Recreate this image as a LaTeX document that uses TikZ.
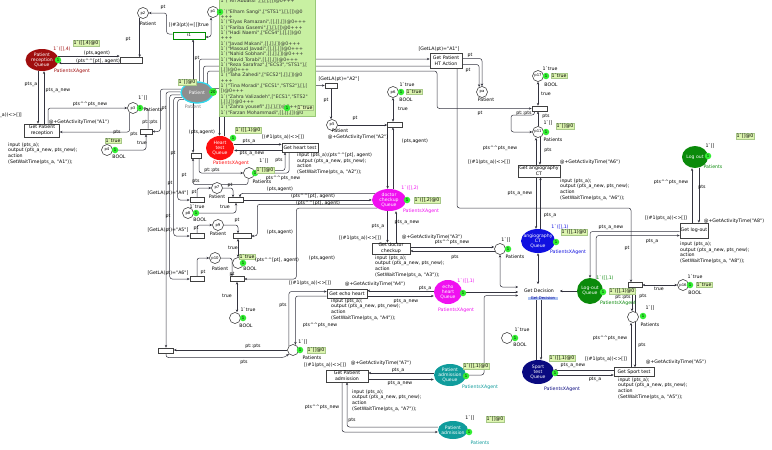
\documentclass[tikz,border=0pt]{standalone}
\usepackage{fontspec}
\newfontfamily\cpn{DejaVu Sans}
\usetikzlibrary{arrows.meta,shapes.geometric,backgrounds,calc}
\definecolor{arcc}{HTML}{34343F}
\definecolor{qdred}{HTML}{A00E0E}
\definecolor{qred}{HTML}{FF1010}
\definecolor{qmag}{HTML}{F010F0}
\definecolor{qblue}{HTML}{1010E0}
\definecolor{qnavy}{HTML}{0A0A80}
\definecolor{qteal}{HTML}{109C9C}
\definecolor{qgreen}{HTML}{0A8A0A}
\definecolor{pgrey}{HTML}{8E8E8E}
\definecolor{pcyan}{HTML}{30D8EE}
\definecolor{tokg}{HTML}{33EE33}
\definecolor{mkfill}{HTML}{DDF5B0}
\definecolor{mkdraw}{HTML}{A8C888}
\definecolor{listfill}{HTML}{C8F0A2}
\definecolor{listdraw}{HTML}{98C878}
\definecolor{subblue}{HTML}{AFC4F2}
\newcommand\fs{\fontsize{4.7}{5.6}\selectfont}
\newcommand\fss{\fontsize{3.8}{4.2}\selectfont}
\newcommand\fsss{\fontsize{3}{3.2}\selectfont}
\newcommand\fsq{\fontsize{4.6}{5.1}\selectfont}
\newcommand\hh{\char94\char94}
\begin{document}
\begin{tikzpicture}[x=1pt,y=-1pt,font=\cpn\fs,
 arc/.style={draw=arcc,line width=0.5pt,rounded corners=2.5pt,-{Stealth[length=2.8pt,width=2.4pt]}},
 arcb/.style={arc,{Stealth[length=2.8pt,width=2.4pt]}-{Stealth[length=2.8pt,width=2.4pt]}},
 place/.style={circle,draw=black!85,line width=0.5pt,fill=white,minimum size=11pt,inner sep=0pt,font=\cpn\fss},
 tr/.style={rectangle,draw=black!75,line width=0.55pt,fill=white,align=center,inner sep=0pt,font=\cpn\fs},
 str/.style={tr,minimum height=5pt,font=\cpn\fsss},
 qe/.style={ellipse,inner sep=0pt},
 qt/.style={text=white,align=center,inner sep=0pt,font=\cpn\fsq},
 tok/.style={circle,fill=tokg,minimum size=6.5pt,inner sep=0pt,font=\cpn\fss},
 mk/.style={fill=mkfill,draw=mkdraw,line width=0.3pt,inner sep=0.7pt},
 lb/.style={inner sep=0pt},
 code/.style={align=left,anchor=north west,inner sep=0pt},
]
\useasboundingbox (0,0) rectangle (772,450);

% ---------------- queues (ellipses)
\node[qe,fill=qdred,minimum width=33pt,minimum height=22pt] (PRQ) at (42,60) {};
\node[qe,fill=pgrey,draw=pcyan,line width=1.3pt,minimum width=32pt,minimum height=21pt] (Patient) at (197,92.5) {};
\node[qe,fill=qred,minimum width=28pt,minimum height=24pt] (HTQ) at (220,148) {};
\node[qe,fill=qmag,minimum width=34pt,minimum height=22pt] (DCQ) at (389,200) {};
\node[qe,fill=qblue,minimum width=34pt,minimum height=24pt] (ACT) at (538,241) {};
\node[qe,fill=qmag,minimum width=28pt,minimum height=24pt] (EHQ) at (448,292) {};
\node[qe,fill=qteal,minimum width=32pt,minimum height=22pt] (PAQ) at (450,375) {};
\node[qe,fill=qteal,minimum width=30pt,minimum height=18pt] (PA) at (453,430) {};
\node[qe,fill=qnavy,minimum width=32pt,minimum height=24pt] (STQ) at (538,372) {};
\node[qe,fill=qgreen,minimum width=26pt,minimum height=26pt] (LOQ) at (590,291) {};
\node[qe,fill=qgreen,minimum width=26pt,minimum height=22pt] (LO) at (695,157) {};
\node[qt] (PRQt) at (PRQ) {Patient\\reception\\Queue};
\node[qt] (Patientt) at (Patient) {Patient};
\node[qt] (HTQt) at (HTQ) {Heart\\test\\Queue};
\node[qt] (DCQt) at (DCQ) {doctor\\checkup\\Queue};
\node[qt] (ACTt) at (ACT) {angiography\\CT\\Queue};
\node[qt] (EHQt) at (EHQ) {echo\\heart\\Queue};
\node[qt] (PAQt) at (PAQ) {Patient\\admission\\Queue};
\node[qt] (PAt) at (PA) {Patient\\admission};
\node[qt] (STQt) at (STQ) {Sport\\test\\Queue};
\node[qt] (LOQt) at (LOQ) {Log-out\\Queue};
\node[qt] (LOt) at (LO) {Log out};

% ---------------- places
\node[place] (p2) at (143,13) {p2};
\node[place] (p1) at (213,12) {p1};
\node[place] (p3) at (133,108) {p3};
\node[place] (p4) at (107,150) {p4};
\node[place] (p5) at (332,125) {p5};
\node[place] (pa) at (482,92) {pa};
\node[place] (p6) at (393,92) {p6};
\node[place] (p17) at (538,76) {p17};
\node[place] (p11) at (538,132) {p11};
\node[place] (pX) at (249,173) {};
\node[place] (p7) at (217,188) {p7};
\node[place] (p8) at (188,213) {p8};
\node[place] (p9) at (218,225) {p9};
\node[place] (p12) at (238,263) {};
\node[place] (p10) at (215,258) {p10};
\node[place] (p13) at (235,318) {};
\node[place] (p15) at (293,350) {};
\node[place] (p19) at (500,249) {};
\node[place] (p14) at (507,338) {};
\node[place] (p16) at (683,285) {p16};
\node[place] (p18) at (633,317) {};

% ---------------- transitions
\node[tr,minimum width=35pt,minimum height=13pt] (GPR) at (42,130.5) {Get Patient\\reception};
\node[str,minimum width=22pt,minimum height=6pt] (t2) at (131,60.5) {};
\node[tr,draw=green!55!black,line width=0.8pt,minimum width=32pt,minimum height=7pt,font=\cpn\fss] (t1) at (189,35.5) {t1};
\node[str,minimum width=12pt] (t4) at (146,131.5) {};
\node[str,minimum width=10pt] (tHT) at (196,155.5) {};
\node[str,minimum width=14pt] (tA4) at (197,200) {};
\node[str,minimum width=15pt] (t7) at (236,200) {};
\node[str,minimum width=14pt] (tA5) at (197,236) {};
\node[str,minimum width=18pt] (t9) at (242,236) {};
\node[str,minimum width=14pt] (tA6) at (197,279) {};
\node[str,minimum width=14pt] (t10) at (237,279) {};
\node[str,minimum width=15pt] (t14) at (166,350.5) {};
\node[str,minimum width=12pt] (t5) at (331,85.5) {};
\node[str,minimum width=15pt] (t6) at (395,124.5) {};
\node[str,minimum width=15pt] (t17) at (539.5,108.5) {};
\node[str,minimum width=14pt] (tLO) at (635,285) {};
\node[tr,minimum width=32pt,minimum height=15pt] (GPHT) at (446,60.5) {Get Patient\\HT Action};
\node[tr,minimum width=36pt,minimum height=9pt] (GHT) at (300,147.5) {Get heart test};
\node[tr,minimum width=42pt,minimum height=12pt] (GACT) at (539,171) {Get angiography\\CT};
\node[tr,minimum width=38pt,minimum height=11pt] (GDC) at (391,248.5) {Get doctor\\checkup};
\node[tr,double,double distance=0.7pt,minimum width=41pt,minimum height=12pt] (GD) at (539,290.5) {Get Decision};
\node[tr,minimum width=40pt,minimum height=9pt] (GEH) at (347,293.5) {Get echo heart};
\node[tr,minimum width=42pt,minimum height=12pt] (GPA) at (347,376) {Get Patient\\admission};
\node[tr,minimum width=40pt,minimum height=9pt] (GST) at (634,372) {Get Sport test};
\node[tr,minimum width=28pt,minimum height=15pt] (GLO) at (694,230.5) {Get log-out};
\node[fill=subblue,text=blue!60!black,inner sep=0.5pt,font=\cpn\fss,minimum width=30pt] (GDsub) at (543,298.5) {Get Decision};

% ---------------- arcs
\begin{scope}[on background layer]
\fill[white] (0,0) rectangle (772,450);
\draw[arc] (PRQ.14) -- (PRQ.14 -| t2.west);
\draw[arc] ([yshift=-2.5pt]t2.west) -- ([yshift=-2.5pt]t2.west -| PRQ.east);
\draw[arc] (p2.235) -- (p2.235 |- t2.north);
\draw[arc] ([yshift=1.5pt]t1.west) -- ++(-6,0) |- (p2.east);
\draw[arc] (Patient.110) -- (Patient.110 |- t1.south);
\draw[arcb] (p1.250) |- ([yshift=-1.5pt]t1.east);
\draw[arc] ([xshift=-4pt]PRQ.south) -- ([xshift=-4pt]PRQ.south |- GPR.north);
\draw[arc] ([xshift=2pt]GPR.north) -- ([xshift=2pt]GPR.north |- PRQ.south);
\draw[arc] ([xshift=6pt]GPR.north) |- (p3.west);
\draw[arc] (p3.235) |- ([yshift=-1.5pt]GPR.east);
\draw[arc] ([xshift=2pt]t4.north) |- (p3.east);
\draw[arc] (Patient.168) -| ([xshift=8pt]t4.east) -- (t4.east);
\draw[arcb] (p4.east) -| (t4.south);
\draw[arc] (Patient.178) -| (t14.north);
\draw[arc] (Patient.188) -| ([xshift=-20pt]tA6.west) -- (tA6.west);
\draw[arc] (Patient.198) -| ([xshift=-16pt]tA5.west) -- (tA5.west);
\draw[arc] (Patient.208) -| ([xshift=-12pt]tA4.west) -- (tA4.west);
\draw[arc] (Patient.250) -- (Patient.250 |- tHT.north);
\draw[arc] ([xshift=3pt]tHT.south) |- (pX.west);
\draw[arc] (pX.260) -- ++(0,6) -| ([xshift=-3pt]tHT.south);
\draw[arc] (HTQ.15) -- (HTQ.15 -| GHT.west);
\draw[arc] ([yshift=-3pt]GHT.west) -- ([yshift=-3pt]GHT.west -| HTQ.east);
\draw[arc] ([xshift=-11pt]GHT.south) |- (pX.east);
\draw[arc] (pX.25) -| ([xshift=-15pt]GHT.south);
\coordinate (hq1) at (219.5,104);
\coordinate (hq2) at (224,104);
\draw[arc] (hq1) -- (hq1 |- HTQ.north);
\draw[arc] (HTQ.70) -- (HTQ.70 |- hq2);
\draw[arc] (t7.east) -- (t7.east -| DCQ.west);
\draw[arc] (DCQ.155) -| ([xshift=4pt]t7.north);
\draw[arc] (DCQ.195) -| ([xshift=6pt]t9.east) -- (t9.east);
\draw[arc] (DCQ.215) -| ([xshift=52pt]t10.east) -- (t10.east);
\draw[arc] (t6.south -| DCQ.97) -- (DCQ.97);
\draw[arc] (DCQ.70) -- (DCQ.70 |- t6.south);
\draw[arcb] (p6.south) -- (p6.south |- t6.north);
\draw[arc] (p5.east) -- (p5.east -| t6.west);
\draw[arc] (t5.south) -- (t5.south |- p5.north);
\draw[arc] (Patient.15) -| ([xshift=-12pt]t5.west) -- (t5.west);
\draw[arc] (Patient.78) |- ([yshift=1.5pt]GPHT.west);
\draw[arc] (Patient.58) |- (457,66) |- (631,208) -- ([xshift=-4pt]tLO.north);
\draw[arc] (Patient.40) |- (437,71) |- (t17.west);
\draw[arc] ([yshift=2pt]GPHT.east) -| (pa.north);
\draw[arc] ([yshift=-4pt]GPHT.east) -| (pa.120);
\draw[arcb] (p17.south) -- (p17.south |- t17.north);
\draw[arc] ([xshift=-5pt]t17.south) |- (511,115) |- (p11.west);
\draw[arc] (p11.north) -- (p11.north |- t17.south);
\draw[arc] ([xshift=-3pt]GACT.north) -- ([xshift=-3pt]GACT.north |- p11.south);
\draw[arc] (p11.290) -- (p11.290 |- GACT.north);
\draw[arc] ([xshift=-3pt]GACT.south) -- ([xshift=-3pt]GACT.south |- ACT.north);
\draw[arc] (ACT.78) -- (ACT.78 |- GACT.south);
\draw[arcb] (ACT.south) -- (ACT.south |- GD.north);
\draw[arc] ([xshift=2pt]GD.south) -- ([xshift=2pt]GD.south |- STQ.north);
\draw[arc] (STQ.100) -- (STQ.100 |- GD.south);
\draw[arc] (EHQ.east) -- (EHQ.east -| GD.west);
\draw[arcb] (p19.south) |- ([yshift=3.5pt]GD.west);
\draw[arc] (PAQ.east) -| (484,295.5) -- ([yshift=-5pt]GD.west);
\draw[arc] (LOQ.west) -- (LOQ.west -| GD.east);
\draw[arc] (DCQ.262) -- (DCQ.262 |- GDC.north);
\draw[arc] ([xshift=5pt]GDC.north) -- ([xshift=5pt]GDC.north |- DCQ.south);
\draw[arc] ([yshift=1.5pt]GDC.east) -- ([yshift=1.5pt]GDC.east -| p19.west);
\draw[arc] (p19.200) -- (p19.200 -| GDC.east);
\draw[arc] (EHQ.175) -- (EHQ.175 -| GEH.east);
\draw[arc] ([yshift=-2.5pt]GEH.east) -- ([yshift=-2.5pt]GEH.east -| EHQ.west);
\draw[arc] (p15.135) |- ([yshift=2pt]GEH.west);
\draw[arc] ([yshift=-2.5pt]GEH.west) -| (p15.65);
\draw[arc] ([yshift=2pt]PAQ.west) -- ([yshift=2pt]PAQ.west -| GPA.east);
\draw[arc] ([yshift=-3.5pt]GPA.east) -- ([yshift=-3.5pt]GPA.east -| PAQ.west);
\draw[arc] ([xshift=-5pt]GPA.south) |- ([yshift=-2pt]PA.west);
\draw[arc] ([yshift=3pt]PA.west) -| (GPA.south);
\draw[arc] ([yshift=-3pt]STQ.east) -- ([yshift=-3pt]STQ.east -| GST.west);
\draw[arc] ([yshift=2pt]GST.west) -- ([yshift=2pt]GST.west -| STQ.east);
\draw[arc] ([xshift=-3pt]GST.north) -- ([xshift=-3pt]GST.north |- p18.south);
\draw[arc] (p18.290) -- (p18.290 |- GST.north);
\draw[arc] ([xshift=-3pt]tLO.south) -- ([xshift=-3pt]tLO.south |- p18.north);
\draw[arc] (p18.70) -- (p18.70 |- tLO.south);
\draw[arcb] (tLO.east) -- (tLO.east -| p16.west);
\draw[arc] ([yshift=-1pt]GLO.west) -| (LOQ.north);
\draw[arc] (LOQ.62) |- ([yshift=-5pt]GLO.west);
\draw[arc] ([xshift=-2pt]GLO.north) -- ([xshift=-2pt]GLO.north |- LO.south);
\draw[arc] (LO.290) -- (LO.290 |- GLO.north);
\draw[arc] (p15.west) -- (p15.west -| t14.east);
\draw[arc] (t14.south) |- (284,357.5) -- (p15.225);
\draw[arc] (tA4.north) |- (p7.west);
\draw[arc] (p7.east) -| ([xshift=-3pt]t7.north);
\draw[arcb] (p8.east) -| (t7.south);
\draw[arc] (tA5.north) |- (p9.west);
\draw[arc] (p9.east) -| ([xshift=-4pt]t9.north);
\draw[arcb] (p12.north) -- (p12.north |- t9.south);
\draw[arc] (tA6.north) |- (p10.west);
\draw[arc] (p10.east) -| ([xshift=-5pt]t10.north);
\draw[arcb] (t10.south) -- (t10.south |- p13.north);
\end{scope}

% ---------------- Patient marking list
\node[fill=listfill,draw=listdraw,line width=0.3pt,align=left,inner xsep=1.5pt,inner ysep=1pt,text=black!80,
  font=\cpn\fontsize{4.7}{5.3}\selectfont,text width=93pt,anchor=south west] (plist) at (219,116) {%
1`("Ali Abbassi",[],[],[])@0+++\\[5.5pt]
1`("Elham Sangi",["STS1"],[],[])@0\\
+++\\
1`("Elyas Ramazani",[],[],[])@0+++\\
1`("Fariba Gasemi",[],[],[])@0+++\\
1`("Hadi Naemi",["ECS4"],[],[])@0\\
+++\\
1`("Javad Makani",[],[],[])@0+++\\
1`("Masoud Javadi",[],[],[])@0+++\\
1`("Nahid Sobhani",[],[],[])@0+++\\
1`("Navid Torabi",[],[],[])@0+++\\
1`("Reza Sarafraz",["ECS3","STS1"],[\\
],[])@0+++\\
1`("Taha Zahedi",["ECS2"],[],[])@0\\
+++\\
1`("Tina Moradi",["ECS1","STS2"],[],[\\
])@0+++\\
1`("Zahra Valizadeh",["ECS1","STS2"\\
],[],[])@0+++\\
1`("Zahra yousefi",[],[],[])@0+++\\
1`("Farzan Mohammadi",[],[],[])@0};
\node[tok] (tkL) at (287,108) {1};
\node[mk] (mkL) at (305,108) {1`true};

% ---------------- tokens
\node[tok] (tk1) at (58,60) {1};
\node[tok] (tk2) at (220,12) {1};
\node[tok] (tk3) at (140,108) {1};
\node[tok] (tk4) at (115,150) {1};
\node[tok,minimum size=8pt] (tk5) at (213,92) {20};
\node[tok] (tk6) at (233,138) {1};
\node[tok] (tk7) at (255,173) {1};
\node[tok] (tk8) at (196,213) {1};
\node[tok] (tk9) at (243,263) {1};
\node[tok] (tk10) at (243,318) {1};
\node[tok] (tk11) at (300,350) {1};
\node[tok] (tk12) at (401,92) {1};
\node[tok] (tk13) at (546,76) {1};
\node[tok] (tk14) at (546,132) {1};
\node[tok] (tk15) at (407,200) {1};
\node[tok] (tk16) at (556,242) {1};
\node[tok] (tk17) at (508,249) {1};
\node[tok] (tk18) at (463,293) {1};
\node[tok] (tk19) at (466,376) {1};
\node[tok] (tk20) at (469,432) {1};
\node[tok] (tk21) at (555,373) {1};
\node[tok] (tk22) at (515,338) {1};
\node[tok] (tk23) at (603,292) {1};
\node[tok] (tk24) at (643,316) {1};
\node[tok] (tk25) at (690,285) {1};
\node[tok] (tk26) at (708,156) {1};

% ---------------- markings
\node[mk] (m1) at (86,43) {1`([],4)@0};
\node[mk] (m2) at (187,82) {1`[]@0};
\node[mk] (m3) at (113,141) {1`true};
\node[mk] (m4) at (248,130) {1`([],1)@0};
\node[mk] (m5) at (265,170) {1`[]@0};
\node[mk] (m6) at (414,92) {1`true};
\node[mk] (m7) at (559,76) {1`true};
\node[mk] (m8) at (565,126) {1`[]@0};
\node[mk] (m9) at (427,200) {1`([],2)@0};
\node[mk] (m10) at (574,232) {1`([],1)@0};
\node[mk] (m11) at (247,257) {1`true};
\node[mk] (m12) at (316,350) {1`[]@0};
\node[mk] (m13) at (476,366) {1`([],1)@0};
\node[mk] (m14) at (495,419) {1`[]@0};
\node[mk] (m15) at (562,358) {1`([],1)@0};
\node[mk] (m16) at (622,291) {1`([],1)@0};
\node[mk] (m17) at (704,285) {1`true};
\node[mk] (m18) at (745,136) {1`[]@0};

% ---------------- coloured sublabels
\node[lb,text=qdred] (c1) at (62,49) {1`([],4)};
\node[lb,text=qdred] (c2) at (72,71) {PatientsXAgent};
\node[lb,text=gray] (c3) at (193,107) {Patient};
\node[lb,text=qred] (c4) at (231,163.5) {PatientsXAgent};
\node[lb,text=qmag] (c5) at (410,188) {1`([],2)};
\node[lb,text=qmag] (c6) at (421,211) {PatientsXAgent};
\node[lb,text=qblue] (c7) at (560,227) {1`([],1)};
\node[lb,text=qblue] (c8) at (568,252) {PatientsXAgent};
\node[lb,text=qmag] (c9) at (466,281) {1`([],1)};
\node[lb,text=qmag] (c10) at (456,310) {PatientsXAgent};
\node[lb,text=qteal] (c11) at (480,387) {PatientsXAgent};
\node[lb,text=qteal] (c12) at (480,443) {Patients};
\node[lb,text=qnavy] (c13) at (562,389) {PatientsXAgent};
\node[lb,text=qgreen] (c14) at (605,278) {1`([],1)};
\node[lb,text=qgreen] (c15) at (618,303) {PatientsXAgent};
\node[lb,text=qgreen] (c16) at (713,167) {Patients};

% ---------------- plain labels
\node[lb] (l1) at (97,53) {(pts,agent)};
\node[lb] (l2) at (98,61) {(pts\hh[pt], agent)};
\node[lb] (l3) at (31,84) {pts\_a};
\node[lb] (l4) at (58,90) {pts\_a\_new};
\node[lb] (l5) at (90,104) {pts\hh pts\_new};
\node[lb] (l6) at (79,122) {@+GetActivityTime("A1")};
\node[lb,anchor=east] (l7) at (22,115) {[(\#1(pts\_a))<>[]]};
\node[code] (cd1) at (8,142.5) {input (pts\_a);\\output (pts\_a\_new, pts\_new);\\action\\(SetWaitTime(pts\_a, "A1"));};
\node[lb] (l8) at (117,132.5) {pts};
\node[lb] (l9) at (134,134) {pts};
\node[lb] (l10) at (143,98) {1`[]};
\node[lb] (l11) at (153,110) {Patients};
\node[lb] (l12) at (150,122) {pt::pts};
\node[lb] (l13) at (164,108) {pt};
\node[lb] (l14) at (142,143) {true};
\node[lb] (l15) at (119,157) {BOOL};
\node[lb] (l16) at (148,24) {Patient};
\node[lb] (l17) at (128,39) {pt};
\node[lb] (l18) at (163,7) {pt};
\node[lb] (l19) at (184,25) {[(\#3(pt))=[]]};
\node[lb] (l20) at (204,25) {true};
\node[lb] (l21) at (197,58) {pt};
\node[lb] (l22) at (202,132) {(pts,agent)};
\node[lb] (l24) at (249,141) {pts\_a};
\node[lb] (l25) at (252,153) {pts\_a\_new};
\node[lb] (l26) at (283,137) {[(\#1(pts\_a))<>[]]};
\node[lb] (l27) at (358,137.5) {@+GetActivityTime("A2")};
\node[lb] (l28) at (340,131) {Patient};
\node[code] (cd2) at (297,153) {input (pts\_a);\\output (pts\_a\_new, pts\_new);\\action\\(SetWaitTime(pts\_a, "A2"));};
\node[lb] (l29) at (279,160) {pts};
\node[lb] (l30) at (283,178.5) {pts\hh pts\_new};
\node[lb] (l31) at (264,161) {1`[]};
\node[lb] (l32) at (262,182) {Patients};
\node[lb] (l33) at (212,170) {pt::pts};
\node[lb] (l34) at (196,181.5) {pts};
\node[lb] (l35) at (339,79) {[GetLA(pt)="A2"]};
\node[lb] (l36) at (326,100) {pt};
\node[lb] (l37) at (355,118.5) {pt};
\node[lb] (l38) at (439,49) {[GetLA(pt)="A1"]};
\node[lb] (l39) at (470,55.5) {pt};
\node[lb] (l40) at (468,70) {pt};
\node[lb] (l41) at (486,99.5) {Patient};
\node[lb] (l42) at (407,85) {1`true};
\node[lb] (l43) at (406,99.5) {BOOL};
\node[lb] (l44) at (403,109) {true};
\node[lb] (l45) at (415,141) {(pts,agent)};
\node[lb] (l46) at (350,155) {(pts\hh[pt], agent)};
\node[lb] (l47) at (550,69) {1`true};
\node[lb] (l48) at (551,84.5) {BOOL};
\node[lb] (l49) at (546,94) {true};
\node[lb] (l50) at (480,113) {pt};
\node[lb] (l51) at (524,113) {pt::pts};
\node[lb] (l52) at (546,116) {pts};
\node[lb] (l53) at (548,123) {1`[]};
\node[lb] (l54) at (553,139.5) {Patients};
\node[lb] (l55) at (500,148) {pts\hh pts\_new};
\node[lb] (l56) at (548,150) {pts};
\node[lb] (l57) at (489,162) {[(\#1(pts\_a))<>[]]};
\node[lb] (l58) at (590,162) {@+GetActivityTime("A6")};
\node[code] (cd3) at (560,178.5) {input (pts\_a);\\output (pts\_a\_new, pts\_new);\\action\\(SetWaitTime(pts\_a, "A6"));};
\node[lb] (l59) at (520,193) {pts\_a\_new};
\node[lb] (l60) at (550,215) {pts\_a};
\node[lb] (l61) at (280,189) {(pts,agent)};
\node[lb] (l62) at (313,196) {(pts\hh[pt], agent)};
\node[lb] (l63) at (318,203.5) {(pts\hh[pt], agent)};
\node[lb] (l64) at (280,232) {(pts,agent)};
\node[lb] (l65) at (277,260) {(pts\hh[pt], agent)};
\node[lb] (l66) at (322,258) {(pts,agent)};
\node[lb] (l67) at (168,193) {[GetLA(pt)="A4"]};
\node[lb] (l68) at (168,230) {[GetLA(pt)="A5"]};
\node[lb] (l69) at (168,273) {[GetLA(pt)="A6"]};
\node[lb] (l70) at (173,153) {pt};
\node[lb] (l71) at (184,175) {pt};
\node[lb] (l72) at (170,183) {pt};
\node[lb] (l73) at (168,216) {pt};
\node[lb] (l74) at (194,192) {pt};
\node[lb] (l75) at (230,185) {pt};
\node[lb] (l76) at (196,228) {pt};
\node[lb] (l77) at (237,220) {pt};
\node[lb] (l78) at (203,272) {pt};
\node[lb] (l79) at (232,274) {pt};
\node[lb] (l80) at (217,196.5) {Patient};
\node[lb] (l81) at (218,233.5) {Patient};
\node[lb] (l82) at (220,269) {Patient};
\node[lb] (l83) at (197,207) {1`true};
\node[lb] (l84) at (200,220) {BOOL};
\node[lb] (l85) at (225,207) {true};
\node[lb] (l86) at (250,268.5) {BOOL};
\node[lb] (l87) at (233,248) {true};
\node[lb] (l88) at (248,310) {1`true};
\node[lb] (l89) at (246,325.5) {BOOL};
\node[lb] (l90) at (227,296) {true};
\node[lb] (l91) at (253,346) {pt::pts};
\node[lb] (l92) at (244,362) {pts};
\node[lb] (l93) at (303,342) {1`[]};
\node[lb] (l94) at (312,357.5) {Patients};
\node[lb] (l95) at (360,238) {[(\#1(pts\_a))<>[]]};
\node[lb] (l96) at (432,237) {@+GetActivityTime("A3")};
\node[lb] (l97) at (378,226) {pts\_a};
\node[lb] (l98) at (407,222) {pts\_a\_new};
\node[code] (cd4) at (375,255.5) {input (pts\_a);\\output (pts\_a\_new, pts\_new);\\action\\(SetWaitTime(pts\_a, "A3"));};
\node[lb] (l99) at (506,240) {1`[]};
\node[lb] (l100) at (515,257) {Patients};
\node[lb] (l101) at (452,242) {pts\hh pts\_new};
\node[lb] (l102) at (455,257) {pts};
\node[lb] (l103) at (310,283) {[(\#1(pts\_a))<>[]]};
\node[lb] (l104) at (375,284) {@+GetActivityTime("A4")};
\node[code] (cd5) at (331,298.5) {input (pts\_a);\\output (pts\_a\_new, pts\_new);\\action\\(SetWaitTime(pts\_a, "A4"));};
\node[lb] (l105) at (283,305) {pts};
\node[lb] (l106) at (320,325) {pts\hh pts\_new};
\node[lb] (l107) at (425,288.5) {pts\_a};
\node[lb] (l108) at (406,301) {pts\_a\_new};
\node[lb] (l109) at (325,365) {[(\#1(pts\_a))<>[]]};
\node[lb] (l110) at (381,363) {@+GetActivityTime("A7")};
\node[code] (cd6) at (352,389.5) {input (pts\_a);\\output (pts\_a\_new, pts\_new);\\action\\(SetWaitTime(pts\_a, "A7"));};
\node[lb] (l111) at (322,407) {pts\hh pts\_new};
\node[lb] (l112) at (352,420) {pts};
\node[lb] (l113) at (398,370) {pts\_a};
\node[lb] (l114) at (400,383) {pts\_a\_new};
\node[lb] (l115) at (470,418) {1`[]};
\node[lb] (l116) at (606,359) {[(\#1(pts\_a))<>[]]};
\node[lb] (l117) at (676,362) {@+GetActivityTime("A5")};
\node[code] (cd7) at (618,377.5) {input (pts\_a);\\output (pts\_a\_new, pts\_new);\\action\\(SetWaitTime(pts\_a, "A5"));};
\node[lb] (l118) at (573,365) {pts\_a\_new};
\node[lb] (l119) at (595,379.5) {pts\_a};
\node[lb] (l120) at (650,308) {1`[]};
\node[lb] (l121) at (650,325) {Patients};
\node[lb] (l122) at (610,338) {pts\hh pts\_new};
\node[lb] (l123) at (642,345) {pts};
\node[lb] (l124) at (522,330) {1`true};
\node[lb] (l125) at (520,344.5) {BOOL};
\node[lb] (l126) at (627,248) {pt};
\node[lb] (l127) at (623,297.5) {pt::pts};
\node[lb] (l128) at (643,296.5) {pts};
\node[lb] (l129) at (659,288.5) {true};
\node[lb] (l130) at (695,277) {1`true};
\node[lb] (l131) at (695,292.5) {BOOL};
\node[lb] (l132) at (666,218) {[(\#1(pts\_a))<>[]]};
\node[lb] (l133) at (734,221) {@+GetActivityTime("A8")};
\node[code] (cd8) at (680,242) {input (pts\_a);\\output (pts\_a\_new, pts\_new);\\action\\(SetWaitTime(pts\_a, "A8"));};
\node[lb] (l134) at (611,227) {pts\_a\_new};
\node[lb] (l135) at (652,241) {pts\_a};
\node[lb] (l136) at (671,182) {pts\hh pts\_new};
\node[lb] (l137) at (702,187) {pts};
\node[lb] (l138) at (710,146) {1`[]};
\end{tikzpicture}
\end{document}
